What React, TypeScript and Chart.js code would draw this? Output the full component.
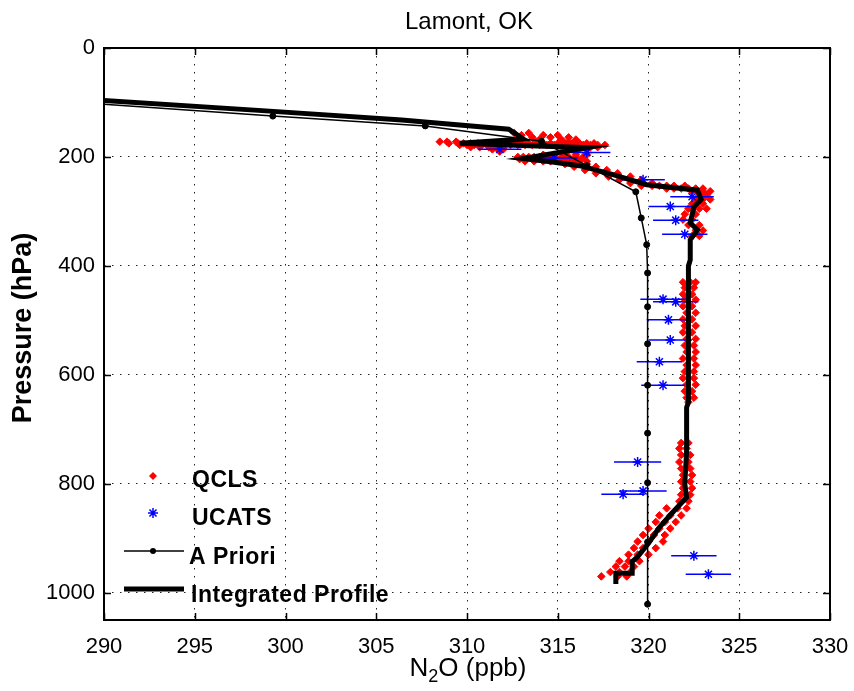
import React, { useEffect, useRef } from "react";
import { Chart, registerables } from "chart.js";

Chart.register(...registerables);

// ---------- axis ticks ----------
const xTicks = [290, 295, 300, 305, 310, 315, 320, 325, 330];
const yTicks = [0, 200, 400, 600, 800, 1000];

// ---------- A Priori profile ----------
const priorP = [100, 125, 143, 171, 216, 264, 312, 361, 413, 475, 543, 619, 707, 798, 907, 1021];
const priorN2O = [288.6, 299.3, 307.7, 314.1, 316.6, 319.3, 319.6, 319.9, 319.95, 319.95, 319.95, 319.95, 319.95, 319.95, 319.95, 319.95];

// ---------- Integrated profile ----------
const profP = [94, 114.5, 132, 149, 167, 175, 183, 203, 209, 216, 232, 251, 261, 278, 292, 321, 334, 352, 389, 400, 650, 660, 740, 800, 825, 850, 880, 909, 934, 943, 964, 964, 984];
const profN2O = [289, 298.5, 306.4, 312.3, 313.1, 309.6, 316.6, 313.1, 314.6, 316.2, 318.0, 319.9, 322.7, 322.9, 322.5, 322.3, 322.7, 322.3, 322.3, 322.2, 322.2, 322.1, 322.1, 322.0, 322.1, 321.4, 320.6, 320.0, 319.4, 319.1, 319.1, 318.2, 318.2];

// ---------- QCLS in-situ (pressure level -> values at that level) ----------
const qclsLevels = [
  156, 160, 164, 168, 172, 175, 178, 182, 186, 190, 196, 200, 204, 208, 213, 218, 224, 230, 236, 242, 248, 253, 258, 263,
  270, 278, 286, 295, 305, 315, 325, 335, 345,
  430, 440, 452, 462, 474, 486, 498, 510, 522, 534, 546, 558, 570, 582, 594, 606, 618, 630, 642, 650,
  725, 735, 747, 760, 772, 784, 796, 808, 820, 832,
  845, 858, 870, 882, 894, 906, 918, 930, 942, 952, 962, 970,
];
const qclsValues = [
  [312.6, 313.4], [313.0, 314.2, 315.0], [313.6, 314.6, 315.6], [314.0, 315.2, 316.0],
  [308.5, 308.9, 309.4, 312.8, 313.8, 315.6],
  [309.0, 309.5, 309.8, 310.2, 310.6, 311.0, 311.4, 311.8, 312.2, 312.6, 313.0, 313.4, 313.8, 314.2, 314.6, 315.0, 315.4, 315.8, 316.2, 316.6, 317.0],
  [309.6, 310.0, 310.4, 310.8, 311.2, 311.6, 312.0, 312.4, 312.8, 313.2, 313.6, 314.0, 314.4, 314.8, 315.2, 315.6, 316.0, 316.4, 316.8, 317.2, 317.6],
  [310.2, 310.7, 311.2, 311.6, 312.0, 315.5, 316.0, 316.4, 316.8, 317.2], [311.4, 312.0, 315.8, 316.2, 316.6], [311.8, 316.0],
  [314.2, 314.8, 315.4, 316.0, 316.6], [312.8, 313.1, 313.4, 313.7, 314.0, 314.4, 314.8, 315.2, 315.6, 316.0, 316.4],
  [312.9, 313.2, 313.6, 314.0, 314.4, 314.8, 315.2, 315.6, 316.0],
  [313.2, 313.7, 314.2, 314.6, 315.0, 315.4, 315.8, 316.2, 316.6], [315.4, 316.0, 316.6], [315.9, 316.5, 317.1], [316.5, 317.1, 317.7],
  [317.1, 317.7, 318.3], [317.8, 318.4, 319.0], [318.4, 319.0, 319.6], [319.0, 319.6, 320.2],
  [319.6, 320.2, 320.6, 321.0, 321.4, 322.0], [321.0, 321.4, 321.8, 322.2, 322.6, 323.0], [322.4, 322.7, 323.0, 323.4],
  [322.8, 323.2], [322.6, 323.0, 323.4], [322.4, 323.0], [322.2, 322.8, 323.2], [322.0, 322.6],
  [321.9, 322.4], [322.2, 322.8], [322.6, 323.0], [322.4, 322.8],
  [321.9, 322.3, 322.6], [322.0, 322.5], [321.9, 322.4], [322.0, 322.6], [321.9, 322.4], [322.1, 322.6],
  [321.9, 322.4], [322.0, 322.6], [321.9, 322.4], [322.1, 322.6], [322.0, 322.5], [322.1, 322.6],
  [321.9, 322.5], [322.1, 322.6], [322.0, 322.5], [321.9, 322.5], [322.1, 322.6], [322.0, 322.4],
  [322.1, 322.5], [322.2],
  [321.8, 322.2], [321.7, 322.1], [321.8, 322.3], [321.7, 322.2], [321.8, 322.3], [321.9, 322.4],
  [321.8, 322.3], [321.9, 322.4], [321.8, 322.3], [321.7, 322.2],
  [321.0, 321.6, 322.1], [320.6, 321.2, 321.8], [320.4, 320.9, 321.5], [320.0, 320.6, 321.2],
  [319.7, 320.3, 320.9], [319.4, 320.0, 320.8], [319.2, 319.7, 320.4], [318.9, 319.4, 320.0],
  [318.4, 318.9, 319.5], [318.2, 318.7, 319.2], [317.9, 318.4, 319.0], [317.4, 318.3, 318.8],
];

// ---------- UCATS points with error bars ----------
const ucatsP = [186, 192, 202, 242, 273, 291, 316, 342, 461, 466, 499, 536, 576, 619, 760, 813, 819, 932, 966];
const ucatsN2O = [311.8, 316.6, 314.8, 319.7, 322.4, 321.2, 321.5, 322.0, 320.8, 321.5, 321.1, 321.2, 320.6, 320.8, 319.4, 319.7, 318.6, 322.5, 323.3];
const ucatsErr = [1.2, 1.3, 1.3, 1.2, 1.2, 1.2, 1.25, 1.25, 1.25, 1.25, 1.2, 1.2, 1.25, 1.2, 1.3, 1.3, 1.2, 1.25, 1.25];

const FONT = "'Liberation Sans', Arial, Helvetica, sans-serif";

const decorPlugin = {
  id: "decor",
  afterDatasetsDraw(chart: any) {
    const { ctx, chartArea: a, scales } = chart;
    const x = scales.x;
    const y = scales.y;
    ctx.save();
    // axes box
    ctx.strokeStyle = "#000";
    ctx.lineWidth = 2;
    ctx.strokeRect(a.left, a.top, a.right - a.left, a.bottom - a.top);
    // inward ticks on all four sides
    ctx.lineWidth = 1.5;
    ctx.beginPath();
    const tl = 7;
    xTicks.forEach((v) => {
      const px = Math.round(x.getPixelForValue(v)) + 0.5;
      ctx.moveTo(px, a.bottom);
      ctx.lineTo(px, a.bottom - tl);
      ctx.moveTo(px, a.top);
      ctx.lineTo(px, a.top + tl);
    });
    yTicks.forEach((v) => {
      const py = Math.round(y.getPixelForValue(v)) + 0.5;
      ctx.moveTo(a.left, py);
      ctx.lineTo(a.left + tl, py);
      ctx.moveTo(a.right, py);
      ctx.lineTo(a.right - tl, py);
    });
    ctx.stroke();

    // legend (inside axes, lower left)
    const mx = a.left + 49;
    const tx = a.left + 88;
    ctx.font = `bold 23px ${FONT}`;
    (ctx as any).letterSpacing = "0.5px";
    ctx.fillStyle = "#000";
    ctx.textAlign = "left";
    ctx.textBaseline = "alphabetic";
    // QCLS
    let ly = 476;
    ctx.fillStyle = "#ff0000";
    ctx.beginPath();
    ctx.moveTo(mx, ly - 4);
    ctx.lineTo(mx + 4, ly);
    ctx.lineTo(mx, ly + 4);
    ctx.lineTo(mx - 4, ly);
    ctx.closePath();
    ctx.fill();
    ctx.fillStyle = "#000";
    ctx.fillText("QCLS", tx, ly + 11);
    // UCATS
    ly = 513;
    ctx.strokeStyle = "#0000ff";
    ctx.lineWidth = 1.5;
    ctx.beginPath();
    const r = 5;
    const d = r * Math.SQRT1_2;
    ctx.moveTo(mx - r, ly); ctx.lineTo(mx + r, ly);
    ctx.moveTo(mx, ly - r); ctx.lineTo(mx, ly + r);
    ctx.moveTo(mx - d, ly - d); ctx.lineTo(mx + d, ly + d);
    ctx.moveTo(mx - d, ly + d); ctx.lineTo(mx + d, ly - d);
    ctx.stroke();
    ctx.fillText("UCATS", tx, ly + 12);
    // A Priori
    ly = 551;
    ctx.strokeStyle = "#000";
    ctx.lineWidth = 1.5;
    ctx.beginPath();
    ctx.moveTo(mx - 29, ly); ctx.lineTo(mx + 31, ly);
    ctx.stroke();
    ctx.beginPath();
    ctx.arc(mx, ly, 3, 0, Math.PI * 2);
    ctx.fill();
    ctx.fillText("A Priori", tx - 3, ly + 13);
    // Integrated Profile
    ly = 589;
    ctx.lineWidth = 5;
    ctx.beginPath();
    ctx.moveTo(mx - 29, ly); ctx.lineTo(mx + 31, ly);
    ctx.stroke();
    ctx.fillText("Integrated Profile", tx - 1, ly + 13);
    (ctx as any).letterSpacing = "0px";

    // title
    ctx.font = `24px ${FONT}`;
    ctx.textAlign = "center";
    ctx.fillText("Lamont, OK", 469, 29);

    // x-axis label with subscript
    const cx = 468;
    const by = 676;
    const big = `26px ${FONT}`;
    const small = `18px ${FONT}`;
    ctx.font = big;
    const wN = ctx.measureText("N").width;
    const wRest = ctx.measureText("O (ppb)").width;
    ctx.font = small;
    const w2 = ctx.measureText("2").width;
    const total = wN + w2 + wRest;
    let sx = cx - total / 2;
    ctx.textAlign = "left";
    ctx.font = big;
    ctx.fillText("N", sx, by);
    sx += wN;
    ctx.font = small;
    ctx.fillText("2", sx, by + 6);
    sx += w2;
    ctx.font = big;
    ctx.fillText("O (ppb)", sx, by);

    // y-axis label
    ctx.save();
    ctx.translate(24, 328);
    ctx.rotate(-Math.PI / 2);
    ctx.font = `bold 27px ${FONT}`;
    ctx.textAlign = "center";
    ctx.textBaseline = "middle";
    ctx.fillText("Pressure (hPa)", 0, 0);
    ctx.restore();

    ctx.restore();
  },
};

export default function App() {
  const ref = useRef<HTMLCanvasElement | null>(null);

  useEffect(() => {
    if (!ref.current) return;

    const qclsPts: { x: number; y: number }[] = [];
    qclsLevels.forEach((p, i) => {
      qclsValues[i].forEach((v) => qclsPts.push({ x: v, y: p }));
    });
    const ucatsPts = ucatsP.map((p, i) => ({ x: ucatsN2O[i], y: p }));
    const barPts: { x: number | null; y: number | null }[] = [];
    ucatsP.forEach((p, i) => {
      barPts.push({ x: ucatsN2O[i] - ucatsErr[i], y: p });
      barPts.push({ x: ucatsN2O[i] + ucatsErr[i], y: p });
      barPts.push({ x: null, y: null });
    });
    const priorPts = priorP.map((p, i) => ({ x: priorN2O[i], y: p }));
    const profPts = profP.map((p, i) => ({ x: profN2O[i], y: p }));

    const gridCommon = {
      color: "rgba(0,0,0,0.85)",
      lineWidth: 1,
      drawTicks: false,
    };

    const chart = new Chart(ref.current, {
      type: "scatter",
      data: {
        datasets: [
          {
            label: "Integrated Profile",
            data: profPts,
            showLine: true,
            borderColor: "#000",
            borderWidth: 5,
            pointRadius: 0,
            borderJoinStyle: "miter",
            borderCapStyle: "butt",
          },
          {
            label: "A Priori",
            data: priorPts,
            showLine: true,
            borderColor: "#000",
            backgroundColor: "#000",
            borderWidth: 1.5,
            pointRadius: 3,
            pointBorderWidth: 1,
            pointStyle: "circle",
          },
          {
            label: "UCATS",
            data: ucatsPts,
            pointStyle: "star",
            pointRadius: 5,
            borderColor: "#0000ff",
            backgroundColor: "#0000ff",
            pointBorderWidth: 1.5,
          },
          {
            label: "UCATS err",
            data: barPts,
            showLine: true,
            spanGaps: false,
            borderColor: "#0000ff",
            borderWidth: 1.5,
            pointRadius: 0,
          },
          {
            label: "QCLS",
            data: qclsPts,
            pointStyle: "rectRot",
            pointRadius: 3.8,
            borderColor: "#ff0000",
            backgroundColor: "#ff0000",
            pointBorderWidth: 1,
          },
        ],
      },
      options: {
        responsive: false,
        devicePixelRatio: 1,
        animation: false,
        layout: { padding: { top: 48, right: 24, bottom: 0, left: 0 } },
        plugins: {
          legend: { display: false },
          tooltip: { enabled: false },
          title: { display: false },
        },
        scales: {
          x: {
            type: "linear",
            min: 290,
            max: 330,
            afterBuildTicks: (s: any) => {
              s.ticks = xTicks.map((v) => ({ value: v }));
            },
            afterFit: (s: any) => {
              s.height = 71;
              s.paddingLeft = 0;
              s.paddingRight = 0;
            },
            grid: gridCommon,
            border: { display: false, dash: [1.5, 6.5] },
            ticks: {
              color: "#000",
              font: { family: FONT, size: 22 },
              padding: 14,
              maxRotation: 0,
              autoSkip: false,
              callback: (v: any) => String(v),
            },
          },
          y: {
            type: "linear",
            reverse: true,
            min: 0,
            max: 1050,
            afterBuildTicks: (s: any) => {
              s.ticks = yTicks.map((v) => ({ value: v }));
            },
            afterFit: (s: any) => {
              s.width = 104;
              s.paddingTop = 0;
              s.paddingBottom = 0;
            },
            grid: gridCommon,
            border: { display: false, dash: [1.5, 6.5] },
            ticks: {
              color: "#000",
              font: { family: FONT, size: 22 },
              padding: 9,
              autoSkip: false,
              callback: (v: any) => String(v),
            },
          },
        },
      },
      plugins: [decorPlugin],
    });

    return () => chart.destroy();
  }, []);

  return (
    <div style={{ position: "fixed", left: 0, top: 0, width: 854, height: 691, background: "#fff" }}>
      <canvas ref={ref} width={854} height={691} />
    </div>
  );
}
